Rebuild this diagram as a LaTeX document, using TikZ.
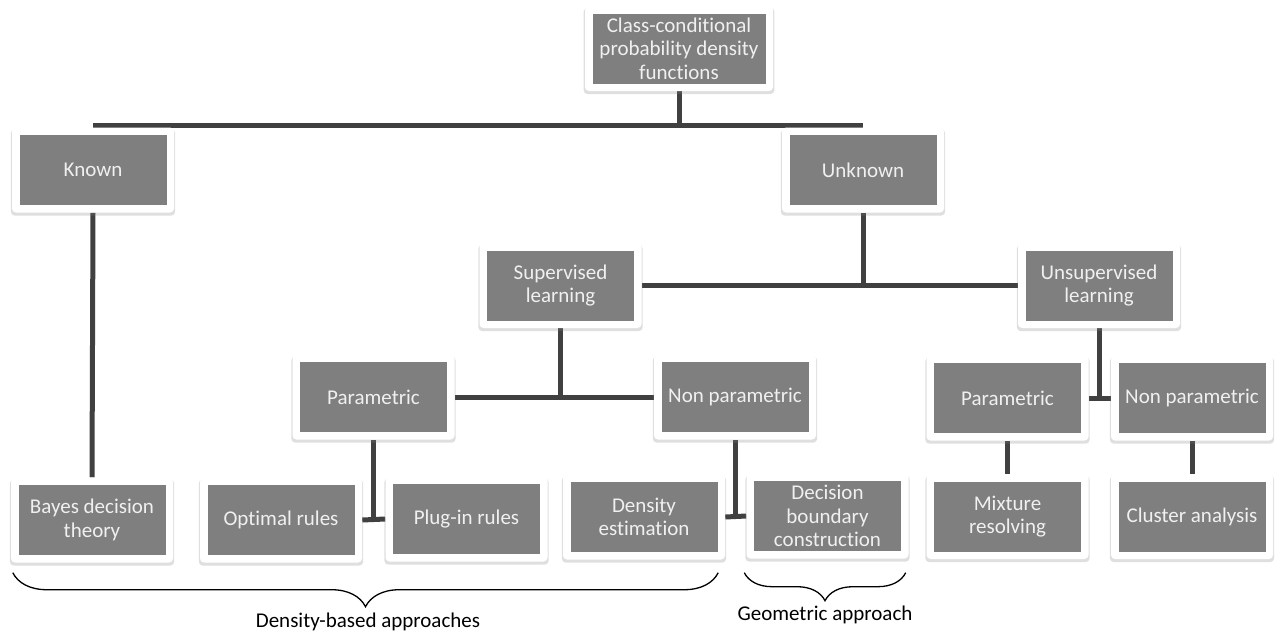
\documentclass[tikz,border=0pt]{standalone}
\usepackage{fontspec}
\setmainfont{Carlito}[Ligatures=NoCommon]
\usetikzlibrary{shadows,backgrounds,decorations.pathreplacing}
\definecolor{boxgray}{RGB}{127,127,127}
\definecolor{linkgray}{RGB}{64,64,64}
\begin{document}
\begin{tikzpicture}[x=1pt,y=-1pt,
  box/.style={fill=white, rounded corners=4pt, minimum width=162pt, minimum height=85pt, inner sep=0pt, align=center,
    text=white!94!black, font=\fontsize{21}{23.5}\selectfont,
    drop shadow={shadow xshift=0pt, shadow yshift=-2.5pt, shadow scale=1.015, opacity=0.25},
    path picture={\fill[boxgray, sharp corners] ([shift={(7.5pt,7.5pt)}]path picture bounding box.south west) rectangle ([shift={(-7.5pt,-7.5pt)}]path picture bounding box.north east);}},
  link/.style={draw=linkgray, line width=5pt},
  bracket/.style={decorate, decoration={brace, mirror, amplitude=#1}, line width=1.3pt},
  bracetext/.style={font=\fontsize{21}{23.5}\selectfont}]
\useasboundingbox (0,0) rectangle (1277,635);
\node[box, minimum width=188pt] (pdf) at (679,48.5) {Class-conditional\\probability density\\functions};
\node[box] (known) at (93,170) {Known};
\node[box] (unknown) at (863,170) {Unknown};
\node[box] (superv) at (560.5,285.5) {Supervised\\learning};
\node[box] (unsuperv) at (1099,285.5) {Unsupervised\\learning};
\node[box] (sparam) at (373.5,397) {Parametric};
\node[box] (snonparam) at (735,397) {Non parametric};
\node[box] (uparam) at (1007.5,398) {Parametric};
\node[box] (unonparam) at (1192,398) {Non parametric};
\node[box] (bayes) at (92,520) {Bayes decision\\theory};
\node[box] (optimal) at (281,520) {Optimal rules};
\node[box] (plugin) at (466.5,519) {Plug-in rules};
\node[box] (densest) at (644,517) {Density\\estimation};
\node[box] (boundary) at (827.5,516) {Decision\\boundary\\construction};
\node[box] (mixture) at (1007.5,516.5) {Mixture\\resolving};
\node[box] (cluster) at (1192,516.5) {Cluster analysis};
\coordinate (topline) at ([yshift=1.5pt]known.north);
\begin{scope}[on background layer]
\draw[link] (pdf.south) -- (pdf.south |- topline);
\draw[link] (topline) -- ([yshift=1.5pt]unknown.north);
\draw[link] (known.south) -- (bayes.north);
\draw[link] (unknown.south) -- (unknown.south |- superv.east);
\draw[link] (superv.east) -- (unsuperv.west);
\draw[link] (superv.south) -- (superv.south |- sparam.east);
\draw[link] (sparam.east) -- (snonparam.west);
\draw[link] (sparam.south) -- (sparam.south |- optimal.east);
\draw[link] (optimal.east) -- (plugin.west);
\draw[link] (snonparam.south) -- (snonparam.south |- densest.east);
\draw[link] (densest.east) -- (boundary.west);
\draw[link] (unsuperv.south) -- (unsuperv.south |- uparam.east);
\draw[link] (uparam.east) -- (unonparam.west);
\draw[link] (uparam.south) -- (mixture.north);
\draw[link] (unonparam.south) -- (cluster.north);
\end{scope}
\coordinate (dbl) at ([shift={(2pt,-10pt)}]bayes.south west);
\coordinate (dbr) at ([xshift=-7pt]densest.east |- dbl);
\coordinate (gbl) at ([xshift=-2pt]boundary.west |- dbl);
\coordinate (gbr) at ([xshift=-3pt]boundary.east |- dbl);
\draw[bracket=34pt] (dbl) -- (dbr);
\draw[bracket=28pt] (gbl) -- (gbr);
\node[bracetext] (densitylabel) at (368,622) {Density-based approaches};
\node[bracetext] (geometriclabel) at (825,615) {Geometric approach};
\end{tikzpicture}
\end{document}
